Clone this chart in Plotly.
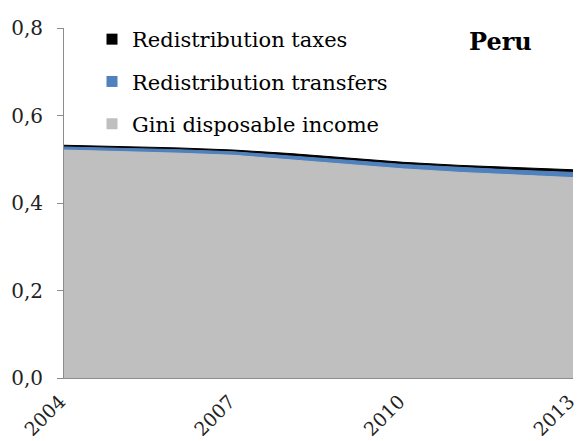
import plotly.graph_objects as go

# Peru: Gini of disposable income plus redistribution effects
years = [2004, 2005, 2006, 2007, 2008, 2009, 2010, 2011, 2012, 2013]
gini_disposable = [0.521, 0.518, 0.514, 0.509, 0.499, 0.488, 0.478, 0.470, 0.464, 0.458]
redist_transfers = [0.007, 0.007, 0.008, 0.008, 0.009, 0.010, 0.010, 0.011, 0.011, 0.012]
redist_taxes = [0.004, 0.004, 0.004, 0.004, 0.005, 0.005, 0.005, 0.005, 0.006, 0.006]

# stacking order bottom -> top, legend shown top -> bottom
series = [
    ("Gini disposable income", gini_disposable, "#bfbfbf", 3),
    ("Redistribution transfers", redist_transfers, "#4f81bd", 2),
    ("Redistribution taxes", redist_taxes, "#000000", 1),
]

FONT = "DejaVu Serif"

fig = go.Figure()
for name, vals, color, rank in series:
    fig.add_trace(go.Scatter(
        x=years, y=vals, name=name,
        stackgroup="one", mode="lines",
        line=dict(color=color, width=1),
        fillcolor=color, showlegend=False,
    ))
    # square legend key
    fig.add_trace(go.Scatter(
        x=[None], y=[None], name=name, mode="markers",
        marker=dict(symbol="square", size=11, color=color),
        legendgroup=name, legendrank=rank,
    ))

# page has an 8px body margin, so the figure is sized 8px smaller
W, H = 574, 433
L, R, T, B = 56, 9, 20, 63
pw, ph = W - L - R, H - T - B

fig.add_annotation(
    text="<b>Peru</b>", xref="paper", yref="paper",
    x=(500 - 8 - L) / pw, y=(H - B - (41 - 8)) / ph,
    xanchor="center", yanchor="middle", showarrow=False,
    font=dict(family=FONT, size=24, color="black"),
)

fig.update_layout(
    width=W, height=H,
    margin=dict(l=L, r=R, t=T, b=B),
    paper_bgcolor="white", plot_bgcolor="white",
    separators=", ",
    font=dict(family=FONT, size=20, color="#222"),
    showlegend=True,
    legend=dict(
        x=(92 - 8 - L) / pw, y=1 + 9 / ph, xanchor="left", yanchor="top",
        traceorder="grouped", tracegroupgap=12,
        font=dict(family=FONT, size=21, color="black"),
        bgcolor="rgba(0,0,0,0)",
    ),
)
fig.update_xaxes(
    range=[2004, 2013], tickvals=[2004, 2007, 2010, 2013],
    tickangle=-45, showgrid=False, zeroline=False,
    showline=True, linecolor="#8c8c8c", linewidth=1,
    ticks="", tickfont=dict(family=FONT, size=19),
    automargin=False, ticklabeloverflow="allow",
    ticklabelshift=-4, ticklabelstandoff=4,
)
fig.update_yaxes(
    range=[0, 0.8], dtick=0.2, tickformat=".1f",
    showgrid=False, zeroline=False,
    showline=True, linecolor="#8c8c8c", linewidth=1,
    ticks="outside", ticklen=6, tickcolor="#8c8c8c",
    tickfont=dict(family=FONT, size=20), automargin=False,
    ticklabelstandoff=10,
)

fig.write_html("out.html")
